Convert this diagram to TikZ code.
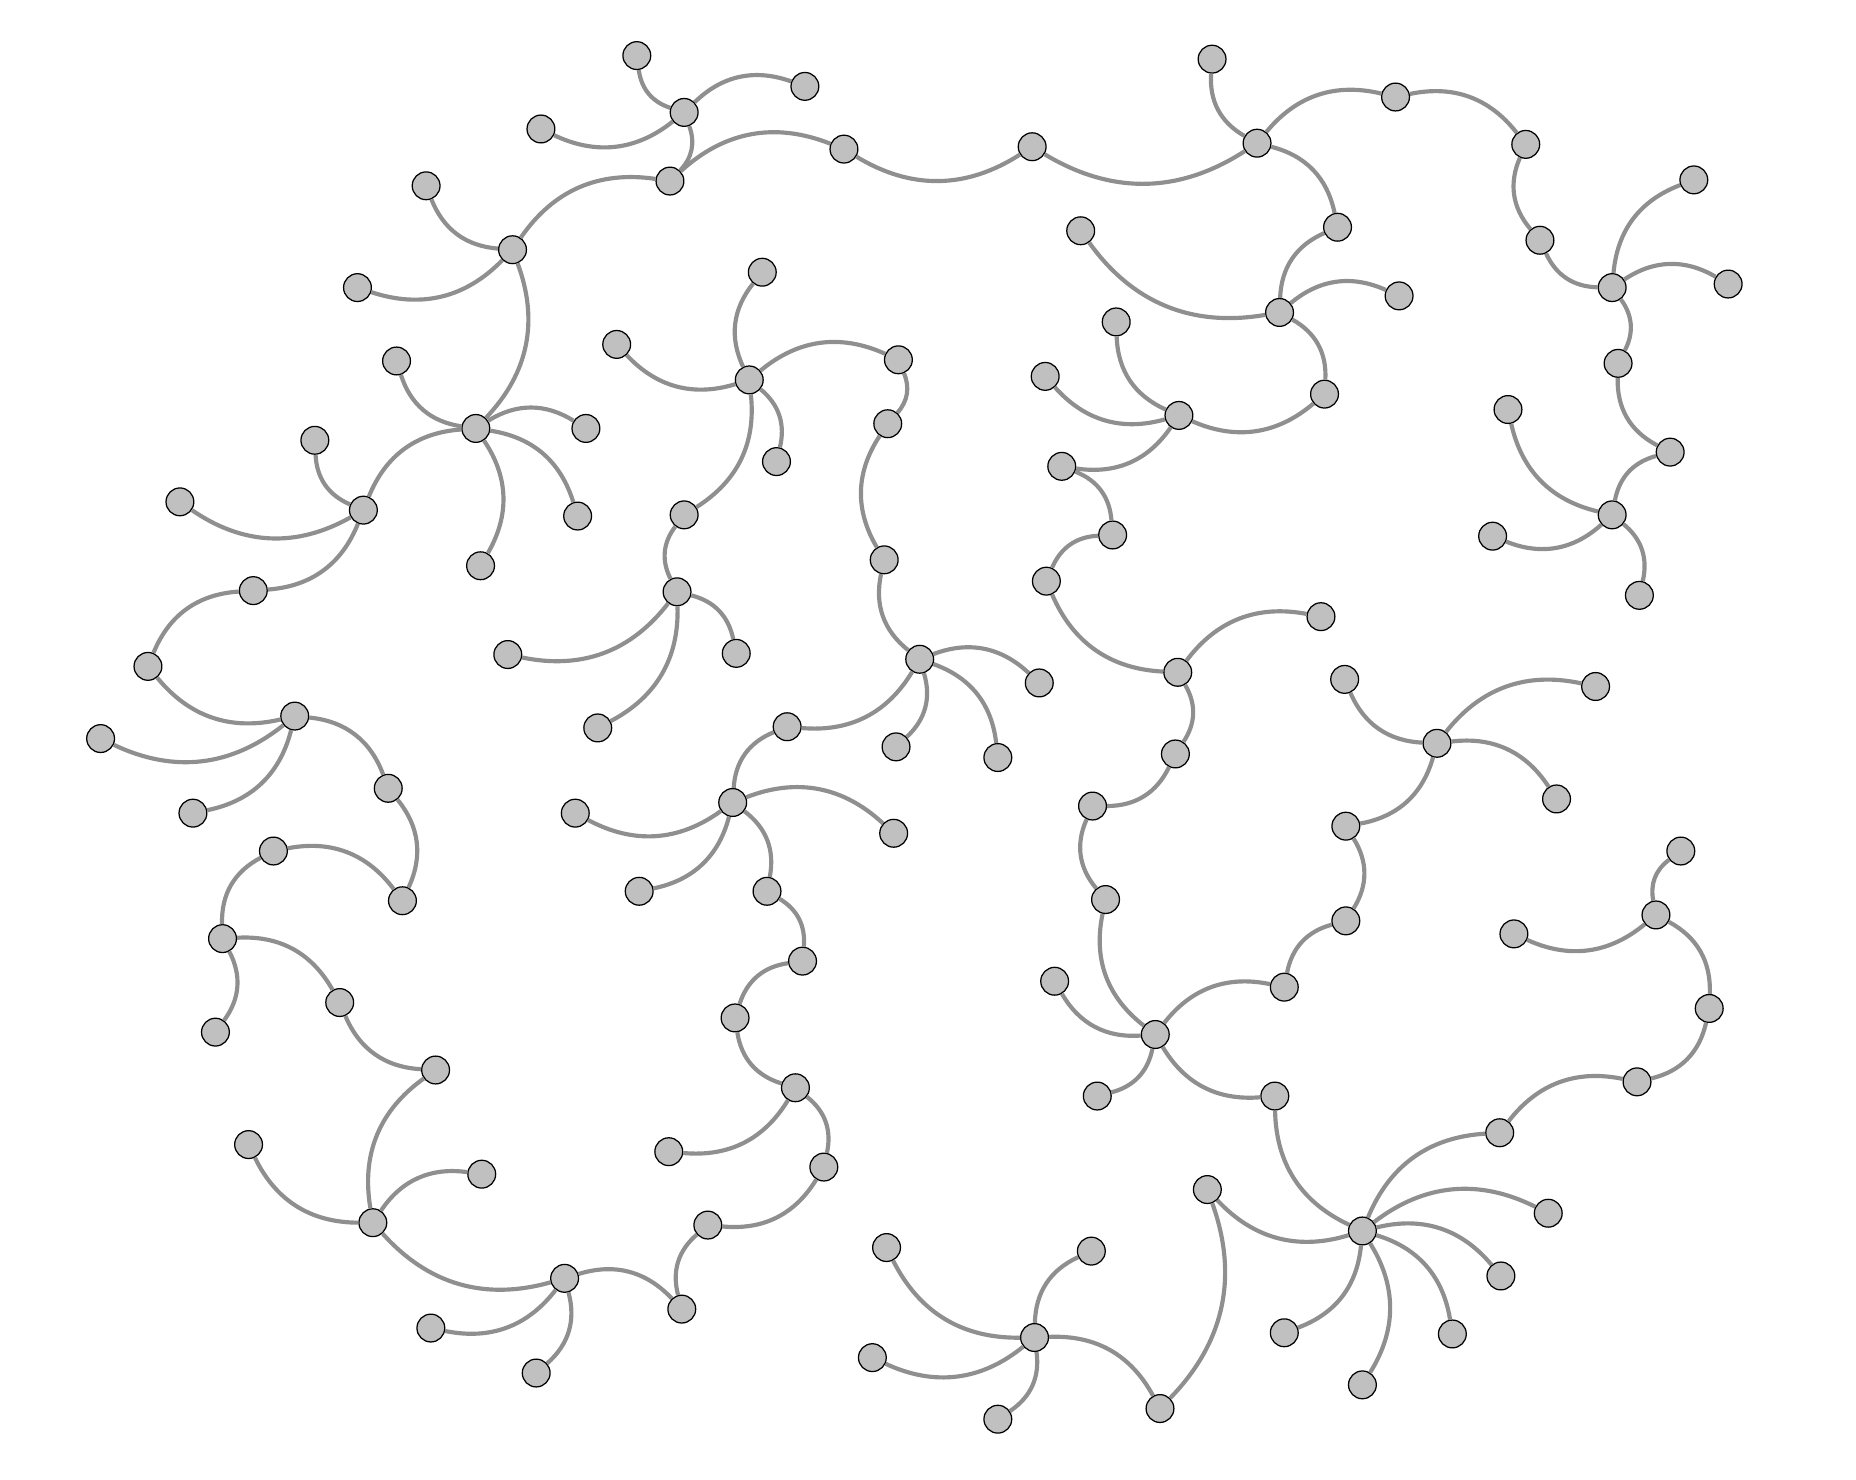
\documentclass[tikz,border=0pt]{standalone}
\usepackage{tikz}
\definecolor{vertfill}{RGB}{192,192,192}
\definecolor{linkgray}{RGB}{143,143,143}
\tikzset{
  vert/.style={circle, draw=black, line width=0.3pt, fill=vertfill, minimum size=2.35mm, inner sep=0pt},
  link/.style={draw=linkgray, line width=1pt},
  bl/.style={bend left=32},
  br/.style={bend right=32},
}
\begin{document}
\begin{tikzpicture}[x=0.1mm, y=0.1mm]
  \useasboundingbox (0,0) rectangle (1568,1250);
  % right-hand tree
  \node[vert] (a1) at (538,1203) {};
  \node[vert] (a2) at (578,1155) {};
  \node[vert] (a3) at (680,1177) {};
  \node[vert] (a4) at (457,1141) {};
  \node[vert] (a5) at (566,1097) {};
  \node[vert] (a6) at (713,1124) {};
  \node[vert] (a7) at (872,1126) {};
  \node[vert] (a8) at (1062,1129) {};
  \node[vert] (a9) at (1024,1200) {};
  \node[vert] (a10) at (1179,1168) {};
  \node[vert] (a11) at (1289,1128) {};
  \node[vert] (a12) at (1301,1047) {};
  \node[vert] (a13) at (1362,1007) {};
  \node[vert] (a14) at (1431,1098) {};
  \node[vert] (a15) at (1460,1010) {};
  \node[vert] (a16) at (1367,943) {};
  \node[vert] (a17) at (1411,868) {};
  \node[vert] (a18) at (1362,815) {};
  \node[vert] (a19) at (1274,904) {};
  \node[vert] (a20) at (1261,797) {};
  \node[vert] (a21) at (1385,747) {};
  \node[vert] (a22) at (1130,1058) {};
  \node[vert] (a23) at (1081,986) {};
  \node[vert] (a24) at (1182,1000) {};
  \node[vert] (a25) at (913,1055) {};
  \node[vert] (a26) at (1119,917) {};
  \node[vert] (a27) at (996,899) {};
  \node[vert] (a28) at (943,978) {};
  \node[vert] (a29) at (883,932) {};
  \node[vert] (a30) at (897,856) {};
  \node[vert] (a31) at (940,798) {};
  \node[vert] (a32) at (884,759) {};
  \node[vert] (a33) at (995,682) {};
  \node[vert] (a34) at (1116,729) {};
  \node[vert] (a35) at (993,613) {};
  \node[vert] (a36) at (923,569) {};
  \node[vert] (a37) at (934,490) {};
  \node[vert] (a38) at (976,376) {};
  \node[vert] (a39) at (891,421) {};
  \node[vert] (a40) at (927,324) {};
  \node[vert] (a41) at (1085,416) {};
  \node[vert] (a42) at (1137,472) {};
  \node[vert] (a43) at (1137,552) {};
  \node[vert] (a44) at (1214,622) {};
  \node[vert] (a45) at (1136,676) {};
  \node[vert] (a46) at (1348,670) {};
  \node[vert] (a47) at (1315,575) {};
  \node[vert] (a48) at (1077,324) {};
  \node[vert] (a49) at (1151,210) {};
  \node[vert] (a50) at (1267,293) {};
  \node[vert] (a51) at (1383,336) {};
  \node[vert] (a52) at (1444,398) {};
  \node[vert] (a53) at (1399,477) {};
  \node[vert] (a54) at (1420,531) {};
  \node[vert] (a55) at (1279,461) {};
  \node[vert] (a56) at (1308,225) {};
  \node[vert] (a57) at (1268,172) {};
  \node[vert] (a58) at (1227,123) {};
  \node[vert] (a59) at (1151,80) {};
  \node[vert] (a60) at (1085,124) {};
  \node[vert] (a61) at (1020,245) {};
  \node[vert] (a62) at (980,60) {};
  \node[vert] (a63) at (874,120) {};
  \node[vert] (a64) at (922,193) {};
  \node[vert] (a65) at (749,196) {};
  \node[vert] (a66) at (737,103) {};
  \node[vert] (a67) at (843,51) {};
  % left-hand tree
  \node[vert] (b1) at (433,1039) {};
  \node[vert] (b2) at (360,1093) {};
  \node[vert] (b3) at (302,1007) {};
  \node[vert] (b4) at (402,888) {};
  \node[vert] (b5) at (335,945) {};
  \node[vert] (b6) at (495,888) {};
  \node[vert] (b7) at (488,814) {};
  \node[vert] (b8) at (406,772) {};
  \node[vert] (b9) at (307,819) {};
  \node[vert] (b10) at (266,878) {};
  \node[vert] (b11) at (152,826) {};
  \node[vert] (b12) at (214,751) {};
  \node[vert] (b13) at (125,687) {};
  \node[vert] (b14) at (249,645) {};
  \node[vert] (b15) at (85,626) {};
  \node[vert] (b16) at (163,563) {};
  \node[vert] (b17) at (328,584) {};
  \node[vert] (b18) at (340,489) {};
  \node[vert] (b19) at (231,531) {};
  \node[vert] (b20) at (188,457) {};
  \node[vert] (b21) at (182,378) {};
  \node[vert] (b22) at (287,403) {};
  \node[vert] (b23) at (368,346) {};
  \node[vert] (b24) at (315,217) {};
  \node[vert] (b25) at (210,283) {};
  \node[vert] (b26) at (407,258) {};
  \node[vert] (b27) at (477,170) {};
  \node[vert] (b28) at (364,128) {};
  \node[vert] (b29) at (453,90) {};
  \node[vert] (b30) at (576,144) {};
  \node[vert] (b31) at (598,215) {};
  \node[vert] (b32) at (696,264) {};
  \node[vert] (b33) at (672,331) {};
  \node[vert] (b34) at (565,277) {};
  \node[vert] (b35) at (621,390) {};
  \node[vert] (b36) at (678,438) {};
  \node[vert] (b37) at (648,497) {};
  \node[vert] (b38) at (619,572) {};
  \node[vert] (b39) at (486,563) {};
  \node[vert] (b40) at (540,497) {};
  \node[vert] (b41) at (755,546) {};
  \node[vert] (b42) at (665,636) {};
  \node[vert] (b43) at (777,693) {};
  \node[vert] (b44) at (878,673) {};
  \node[vert] (b45) at (843,610) {};
  \node[vert] (b46) at (757,619) {};
  \node[vert] (b47) at (747,777) {};
  \node[vert] (b48) at (750,892) {};
  \node[vert] (b49) at (759,946) {};
  \node[vert] (b50) at (633,929) {};
  \node[vert] (b51) at (644,1020) {};
  \node[vert] (b52) at (521,959) {};
  \node[vert] (b53) at (656,860) {};
  \node[vert] (b54) at (578,815) {};
  \node[vert] (b55) at (572,750) {};
  \node[vert] (b56) at (622,698) {};
  \node[vert] (b57) at (429,697) {};
  \node[vert] (b58) at (505,635) {};
  % edges
  \draw[link] (a1) to[br] (a2);
  \draw[link] (a2) to[bl] (a3) (a2) to[bl] (a4) (a2) to[bl] (a5);
  \draw[link] (a5) to[bl] (a6);
  \draw[link] (a6) to[br] (a7);
  \draw[link] (a7) to[br] (a8);
  \draw[link] (a9) to[br] (a8);
  \draw[link] (a8) to[bl] (a10);
  \draw[link] (a10) to[bl] (a11);
  \draw[link] (a11) to[br] (a12);
  \draw[link] (a12) to[br] (a13);
  \draw[link] (a13) to[bl] (a14) (a13) to[bl] (a15) (a13) to[bl] (a16);
  \draw[link] (a16) to[br] (a17);
  \draw[link] (a17) to[br] (a18);
  \draw[link] (a18) to[bl] (a19) (a18) to[bl] (a20) (a18) to[bl] (a21);
  \draw[link] (a8) to[bl] (a22);
  \draw[link] (a22) to[br] (a23);
  \draw[link] (a23) to[bl] (a24) (a23) to[bl] (a25) (a23) to[bl] (a26);
  \draw[link] (a26) to[bl] (a27);
  \draw[link] (a27) to[bl] (a28) (a27) to[bl] (a29) (a27) to[bl] (a30);
  \draw[link] (a30) to[bl] (a31);
  \draw[link] (a31) to[br] (a32);
  \draw[link] (a32) to[br] (a33);
  \draw[link] (a33) to[bl] (a34) (a33) to[bl] (a35);
  \draw[link] (a35) to[bl] (a36);
  \draw[link] (a36) to[br] (a37);
  \draw[link] (a37) to[br] (a38);
  \draw[link] (a38) to[bl] (a39) (a38) to[bl] (a40) (a38) to[bl] (a41);
  \draw[link] (a41) to[bl] (a42);
  \draw[link] (a42) to[br] (a43);
  \draw[link] (a43) to[br] (a44);
  \draw[link] (a44) to[bl] (a45) (a44) to[bl] (a46) (a44) to[bl] (a47);
  \draw[link] (a38) to[br] (a48);
  \draw[link] (a48) to[br] (a49);
  \draw[link] (a49) to[bl] (a50);
  \draw[link] (a50) to[bl] (a51);
  \draw[link] (a51) to[br] (a52);
  \draw[link] (a52) to[br] (a53);
  \draw[link] (a53) to[bl] (a54) (a53) to[bl] (a55);
  \draw[link] (a49) to[bl] (a56) (a49) to[bl] (a57) (a49) to[bl] (a58)
              (a49) to[bl] (a59) (a49) to[bl] (a60) (a49) to[bl] (a61);
  \draw[link] (a61) to[bl] (a62);
  \draw[link] (a62) to[br] (a63);
  \draw[link] (a63) to[bl] (a64) (a63) to[bl] (a65) (a63) to[bl] (a66) (a63) to[bl] (a67);
  \draw[link] (a5) to[br] (b1);
  \draw[link] (b1) to[bl] (b2) (b1) to[bl] (b3) (b1) to[bl] (b4);
  \draw[link] (b4) to[bl] (b5) (b4) to[bl] (b6) (b4) to[bl] (b7) (b4) to[bl] (b8);
  \draw[link] (b4) to[br] (b9);
  \draw[link] (b9) to[bl] (b10) (b9) to[bl] (b11) (b9) to[bl] (b12);
  \draw[link] (b12) to[br] (b13);
  \draw[link] (b13) to[br] (b14);
  \draw[link] (b14) to[bl] (b15) (b14) to[bl] (b16) (b14) to[bl] (b17);
  \draw[link] (b17) to[bl] (b18);
  \draw[link] (b18) to[br] (b19);
  \draw[link] (b19) to[br] (b20);
  \draw[link] (b20) to[bl] (b21) (b20) to[bl] (b22);
  \draw[link] (b22) to[br] (b23);
  \draw[link] (b23) to[br] (b24);
  \draw[link] (b24) to[bl] (b25) (b24) to[bl] (b26);
  \draw[link] (b24) to[br] (b27);
  \draw[link] (b27) to[bl] (b28) (b27) to[bl] (b29) (b27) to[bl] (b30);
  \draw[link] (b30) to[bl] (b31);
  \draw[link] (b31) to[br] (b32);
  \draw[link] (b32) to[br] (b33);
  \draw[link] (b33) to[bl] (b34) (b33) to[bl] (b35);
  \draw[link] (b35) to[bl] (b36);
  \draw[link] (b36) to[br] (b37);
  \draw[link] (b37) to[br] (b38);
  \draw[link] (b38) to[bl] (b39) (b38) to[bl] (b40) (b38) to[bl] (b41) (b38) to[bl] (b42);
  \draw[link] (b42) to[br] (b43);
  \draw[link] (b43) to[bl] (b44) (b43) to[bl] (b45) (b43) to[bl] (b46) (b43) to[bl] (b47);
  \draw[link] (b47) to[bl] (b48);
  \draw[link] (b48) to[br] (b49);
  \draw[link] (b49) to[br] (b50);
  \draw[link] (b50) to[bl] (b51) (b50) to[bl] (b52) (b50) to[bl] (b53) (b50) to[bl] (b54);
  \draw[link] (b54) to[br] (b55);
  \draw[link] (b55) to[bl] (b56) (b55) to[bl] (b57) (b55) to[bl] (b58);
\end{tikzpicture}
\end{document}
